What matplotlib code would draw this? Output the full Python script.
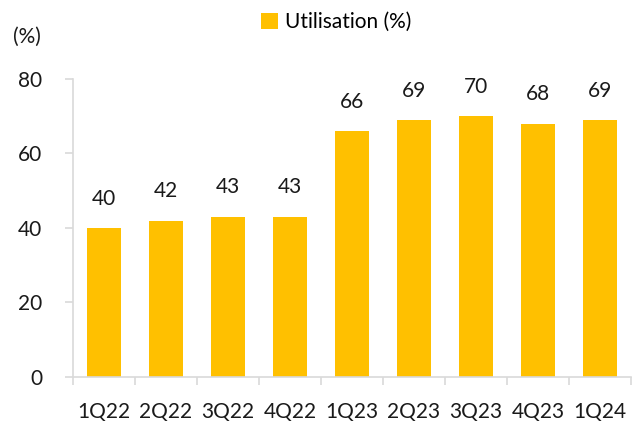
import matplotlib.pyplot as plt
import numpy as np

plt.rcParams['font.family'] = ['Lato', 'DejaVu Sans']

quarters = ['1Q22', '2Q22', '3Q22', '4Q22', '1Q23', '2Q23', '3Q23', '4Q23', '1Q24']
utilisation = [40, 42, 43, 43, 66, 69, 70, 68, 69]

bar_color = '#FFC000'
axis_grey = '#D9D9D9'
text_color = '#1a1a1a'
fs = 15

fig = plt.figure(figsize=(6.38, 4.21), dpi=100)
ax = fig.add_axes([0.1144, 0.1045, 0.8746, 0.7079])

x = np.arange(len(quarters))
ax.bar(x, utilisation, width=0.55, color=bar_color, label='Utilisation (%)')

for xi, v in zip(x, utilisation):
    ax.annotate(str(v), (xi, v), xytext=(0, 14), textcoords='offset points',
                ha='center', va='bottom', fontsize=fs, color=text_color)

ax.set_xlim(-0.5, len(quarters) - 0.5)
ax.set_ylim(0, 80)
ax.set_yticks([0, 20, 40, 60, 80])

# ticks between categories, labels under the bars
ax.set_xticks(x)
ax.set_xticklabels(quarters)
ax.set_xticks(np.arange(-0.5, len(quarters)), minor=True)
ax.tick_params(axis='x', which='major', length=0, pad=18, labelsize=fs, labelcolor=text_color)
ax.tick_params(axis='x', which='minor', length=6, width=1.2, color=axis_grey)
ax.tick_params(axis='y', length=6, width=1.2, color=axis_grey, pad=16, labelsize=fs, labelcolor=text_color)

for s in ['top', 'right']:
    ax.spines[s].set_visible(False)
for s in ['left', 'bottom']:
    ax.spines[s].set_color(axis_grey)
    ax.spines[s].set_linewidth(1.2)

fig.text(0.02, 0.912, '(%)', fontsize=fs, color=text_color, ha='left', va='center')

fig.legend(loc='center', bbox_to_anchor=(0.527, 0.948), frameon=False, fontsize=fs,
           handlelength=0.8, handleheight=0.8, handletextpad=0.35)

fig.savefig('out.png', dpi=100)
